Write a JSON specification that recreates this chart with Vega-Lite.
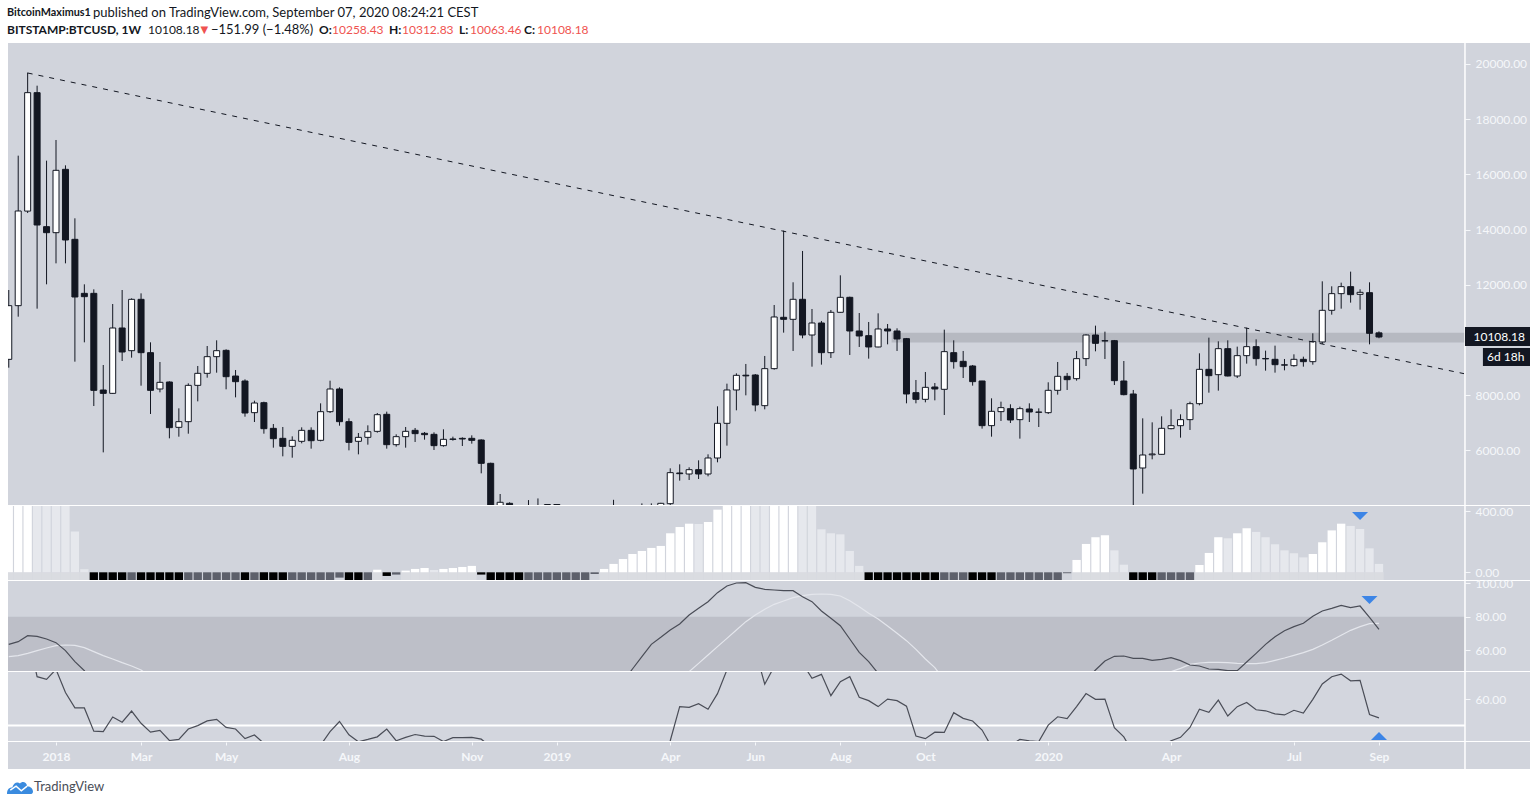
{"$schema":"https://vega.github.io/schema/vega-lite/v6.json","background":"#ffffff","padding":{"left":7,"right":7,"top":0,"bottom":0},"autosize":{"type":"pad"},"spacing":1,"bounds":"flush","config":{"concat":{"spacing":1},"view":{"stroke":null},"axis":{"grid":false,"title":null,"domain":false,"labelColor":"#f5f7fa","tickColor":"#f5f7fa","labelFont":"Lato","labelFontSize":12,"tickSize":5,"labelPadding":5,"labelBound":false,"labelFlush":false,"labelOverlap":false}},"datasets":{"weeks":[
{"t":"2017-11-27","o":9299,"h":11811,"l":8997,"c":11244,"m":700,"k":"u","s":63.4,"g":56},
{"t":"2017-12-04","o":11244,"h":16678,"l":10845,"c":14674,"m":800,"k":"u","s":65,"g":56.6},
{"t":"2017-12-11","o":14670,"h":19685,"l":14600,"c":18961,"m":950,"k":"u","s":68.6,"g":58,"r":85},
{"t":"2017-12-18","o":18961,"h":19214,"l":11135,"c":14166,"m":900,"k":"f","s":68.2,"g":59.6,"r":68.7},
{"t":"2017-12-25","o":14106,"h":16497,"l":12017,"c":13888,"m":820,"k":"f","s":66.6,"g":61.2,"r":67.7},
{"t":"2018-01-01","o":13888,"h":17246,"l":12777,"c":16147,"m":780,"k":"f","s":64.4,"g":62.6,"r":71.5},
{"t":"2018-01-08","o":16183,"h":16328,"l":12777,"c":13623,"m":640,"k":"f","s":59.6,"g":63,"r":62.6},
{"t":"2018-01-15","o":13647,"h":14408,"l":9215,"c":11558,"m":267,"k":"f","s":53,"g":62.8,"r":56.7},
{"t":"2018-01-22","o":11690,"h":12017,"l":9915,"c":11570,"m":20,"k":"f","s":47.6,"g":61.4,"r":56.7},
{"t":"2018-01-29","o":11690,"h":11835,"l":7608,"c":8176,"m":-120,"k":"d","s":38,"g":59,"r":47.8},
{"t":"2018-02-05","o":8188,"h":9094,"l":5929,"c":8067,"m":-200,"k":"d","g":56.6,"r":47.6},
{"t":"2018-02-12","o":8067,"h":11304,"l":8050,"c":10435,"m":-260,"k":"d","g":54.6,"r":53.2},
{"t":"2018-02-19","o":10435,"h":11811,"l":9239,"c":9565,"m":-310,"k":"d","g":52.4,"r":51.2},
{"t":"2018-02-26","o":9613,"h":11509,"l":9360,"c":11473,"m":-290,"k":"e","g":50.4,"r":55.5},
{"t":"2018-03-05","o":11473,"h":11690,"l":8345,"c":9541,"m":-320,"k":"d","g":48,"r":50.8},
{"t":"2018-03-12","o":9541,"h":9915,"l":7319,"c":8176,"m":-340,"k":"d","g":44,"r":47.4},
{"t":"2018-03-19","o":8225,"h":9203,"l":8104,"c":8466,"m":-360,"k":"d","r":48.1},
{"t":"2018-03-26","o":8478,"h":8502,"l":6437,"c":6824,"m":-390,"k":"d","r":44.2},
{"t":"2018-04-02","o":6836,"h":7524,"l":6497,"c":7041,"m":-400,"k":"d","r":44.6},
{"t":"2018-04-09","o":7041,"h":8430,"l":6606,"c":8357,"m":-380,"k":"e","r":48.6},
{"t":"2018-04-16","o":8357,"h":9058,"l":7777,"c":8792,"m":-340,"k":"e","r":49.9},
{"t":"2018-04-23","o":8792,"h":9782,"l":8635,"c":9396,"m":-300,"k":"e","r":51.7},
{"t":"2018-04-30","o":9396,"h":9988,"l":8816,"c":9613,"m":-250,"k":"e","r":52.3},
{"t":"2018-05-07","o":9625,"h":9662,"l":8213,"c":8671,"m":-220,"k":"e","r":49.2},
{"t":"2018-05-14","o":8695,"h":8913,"l":7922,"c":8490,"m":-200,"k":"e","r":48.6},
{"t":"2018-05-21","o":8514,"h":8575,"l":7222,"c":7355,"m":-210,"k":"d","r":44.9},
{"t":"2018-05-28","o":7367,"h":7801,"l":7029,"c":7717,"m":-200,"k":"e","r":46.3},
{"t":"2018-06-04","o":7729,"h":7765,"l":6606,"c":6787,"m":-220,"k":"d","r":43.1},
{"t":"2018-06-11","o":6799,"h":6956,"l":6099,"c":6425,"m":-250,"k":"d"},
{"t":"2018-06-18","o":6437,"h":6848,"l":5785,"c":6147,"m":-270,"k":"d"},
{"t":"2018-06-25","o":6147,"h":6509,"l":5736,"c":6365,"m":-260,"k":"e"},
{"t":"2018-07-02","o":6329,"h":6836,"l":6256,"c":6727,"m":-230,"k":"e"},
{"t":"2018-07-09","o":6727,"h":6836,"l":6063,"c":6352,"m":-200,"k":"e"},
{"t":"2018-07-16","o":6365,"h":7705,"l":6329,"c":7403,"m":-150,"k":"e","r":42.4},
{"t":"2018-07-23","o":7403,"h":8526,"l":7355,"c":8225,"m":-90,"k":"e","r":47.6},
{"t":"2018-07-30","o":8225,"h":8285,"l":6896,"c":7041,"m":-35,"k":"e","r":51.5},
{"t":"2018-08-06","o":7041,"h":7161,"l":6002,"c":6292,"m":-70,"k":"d","r":46.4},
{"t":"2018-08-13","o":6329,"h":6630,"l":5857,"c":6473,"m":-70,"k":"d","r":43.7},
{"t":"2018-08-20","o":6473,"h":6908,"l":6208,"c":6678,"m":-60,"k":"e","r":44.6},
{"t":"2018-08-27","o":6690,"h":7355,"l":6642,"c":7294,"m":17,"k":"u","r":45.6},
{"t":"2018-09-03","o":7307,"h":7404,"l":6063,"c":6208,"m":-24,"k":"d","r":48.6},
{"t":"2018-09-10","o":6208,"h":6582,"l":6136,"c":6498,"m":-15,"k":"e","r":44.1},
{"t":"2018-09-17","o":6498,"h":6848,"l":6099,"c":6691,"m":11,"k":"u","r":45.4},
{"t":"2018-09-24","o":6727,"h":6812,"l":6305,"c":6607,"m":22,"k":"u","r":46.5},
{"t":"2018-10-01","o":6619,"h":6667,"l":6389,"c":6570,"m":28,"k":"u","r":45.9},
{"t":"2018-10-08","o":6582,"h":6655,"l":6015,"c":6172,"m":15,"k":"f","r":45.8},
{"t":"2018-10-15","o":6172,"h":6764,"l":6136,"c":6401,"m":22,"k":"u","r":43.8},
{"t":"2018-10-22","o":6413,"h":6498,"l":6353,"c":6401,"m":28,"k":"u","r":45.3},
{"t":"2018-10-29","o":6437,"h":6474,"l":6160,"c":6413,"m":35,"k":"u","r":45.3},
{"t":"2018-11-05","o":6437,"h":6546,"l":6244,"c":6365,"m":42,"k":"u","r":45.4},
{"t":"2018-11-12","o":6377,"h":6401,"l":5170,"c":5532,"m":-15,"k":"d","r":44.7},
{"t":"2018-11-19","o":5532,"h":5555,"l":3560,"c":3780,"m":-90,"k":"d","r":41.8},
{"t":"2018-11-26","o":3780,"h":4420,"l":3500,"c":4120,"m":-140,"k":"d"},
{"t":"2018-12-03","o":4083,"h":4120,"l":3350,"c":3400,"m":-190,"k":"d"},
{"t":"2018-12-10","o":3400,"h":3600,"l":3120,"c":3200,"m":-220,"k":"d"},
{"t":"2018-12-17","o":3200,"h":4200,"l":3170,"c":3990,"m":-210,"k":"e"},
{"t":"2018-12-24","o":3990,"h":4260,"l":3600,"c":3700,"m":-190,"k":"e"},
{"t":"2018-12-31","o":3800,"h":4058,"l":3650,"c":4040,"m":-170,"k":"e"},
{"t":"2019-01-07","o":4040,"h":4058,"l":3500,"c":3550,"m":-150,"k":"e"},
{"t":"2019-01-14","o":3550,"h":3700,"l":3480,"c":3600,"m":-130,"k":"e"},
{"t":"2019-01-21","o":3600,"h":3670,"l":3450,"c":3530,"m":-100,"k":"e"},
{"t":"2019-01-28","o":3530,"h":3620,"l":3400,"c":3430,"m":-70,"k":"e"},
{"t":"2019-02-04","o":3430,"h":3500,"l":3380,"c":3410,"m":-11,"k":"e"},
{"t":"2019-02-11","o":3410,"h":3740,"l":3390,"c":3640,"m":22,"k":"u"},
{"t":"2019-02-18","o":3640,"h":4210,"l":3600,"c":3780,"m":55,"k":"u"},
{"t":"2019-02-25","o":3800,"h":3920,"l":3650,"c":3830,"m":87,"k":"u","s":41},
{"t":"2019-03-04","o":3830,"h":3950,"l":3700,"c":3850,"m":120,"k":"u","s":48.6},
{"t":"2019-03-11","o":3860,"h":4080,"l":3800,"c":3970,"m":140,"k":"u","s":56},
{"t":"2019-03-18","o":3950,"h":4080,"l":3880,"c":3980,"m":160,"k":"u","s":63.4},
{"t":"2019-03-25","o":3980,"h":4100,"l":3900,"c":4083,"m":173,"k":"u","s":67.6,"r":34},
{"t":"2019-04-01","o":4070,"h":5351,"l":4022,"c":5194,"m":256,"k":"u","s":72,"r":44.1},
{"t":"2019-04-08","o":5182,"h":5495,"l":4904,"c":5157,"m":297,"k":"u","s":75.6,"g":42,"r":57.2},
{"t":"2019-04-15","o":5145,"h":5387,"l":4928,"c":5302,"m":319,"k":"u","s":81,"g":47,"r":56.9},
{"t":"2019-04-22","o":5302,"h":5640,"l":4964,"c":5145,"m":317,"k":"f","s":85,"g":52,"r":58.3},
{"t":"2019-04-29","o":5145,"h":5858,"l":5061,"c":5725,"m":330,"k":"u","s":89,"g":57,"r":56.2},
{"t":"2019-05-06","o":5725,"h":7597,"l":5568,"c":6981,"m":411,"k":"u","s":94.4,"g":62,"r":62.2},
{"t":"2019-05-13","o":6981,"h":8418,"l":6172,"c":8189,"m":480,"k":"u","s":98.4,"g":67,"r":71.3},
{"t":"2019-05-20","o":8189,"h":8792,"l":7452,"c":8720,"m":560,"k":"u","s":100.2,"g":72,"r":79},
{"t":"2019-05-27","o":8725,"h":9131,"l":7995,"c":8700,"m":620,"k":"u","s":100.4,"g":77,"r":81.5},
{"t":"2019-06-03","o":8732,"h":8768,"l":7416,"c":7645,"m":640,"k":"f","s":97.6,"g":81,"r":79},
{"t":"2019-06-10","o":7621,"h":9421,"l":7488,"c":8962,"m":650,"k":"f","s":96.4,"g":84.4,"r":65.8},
{"t":"2019-06-17","o":8962,"h":11268,"l":8925,"c":10834,"m":640,"k":"u","s":96,"g":87.4,"r":72.6},
{"t":"2019-06-24","o":10822,"h":13962,"l":10266,"c":10749,"m":620,"k":"u","s":95.6,"g":89.4,"r":75.1},
{"t":"2019-07-01","o":10749,"h":12090,"l":9602,"c":11474,"m":590,"k":"u","s":95.6,"g":91.4,"r":75.1},
{"t":"2019-07-08","o":11474,"h":13225,"l":10061,"c":10181,"m":520,"k":"f","s":92,"g":92.6,"r":73.8},
{"t":"2019-07-15","o":10181,"h":11123,"l":9034,"c":10616,"m":450,"k":"f","s":89,"g":93.4,"r":68.1},
{"t":"2019-07-22","o":10616,"h":10689,"l":9107,"c":9541,"m":282,"k":"f","s":83.4,"g":93.6,"r":69.6},
{"t":"2019-07-29","o":9541,"h":11087,"l":9348,"c":11003,"m":256,"k":"f","s":79,"g":93.4,"r":61.4},
{"t":"2019-08-05","o":11003,"h":12343,"l":10990,"c":11546,"m":249,"k":"f","s":74.6,"g":92.4,"r":66.8},
{"t":"2019-08-12","o":11546,"h":11570,"l":9457,"c":10326,"m":140,"k":"f","s":66.6,"g":89.6,"r":68.7},
{"t":"2019-08-19","o":10326,"h":10978,"l":9747,"c":10145,"m":42,"k":"f","s":58.6,"g":86,"r":60.8},
{"t":"2019-08-26","o":10157,"h":10652,"l":9324,"c":9747,"m":-70,"k":"d","s":53,"g":82,"r":59.5},
{"t":"2019-09-02","o":9747,"h":10966,"l":9735,"c":10399,"m":-120,"k":"d","s":46,"g":78.6,"r":57.2},
{"t":"2019-09-09","o":10399,"h":10580,"l":9843,"c":10326,"m":-160,"k":"d","g":74.4,"r":60.1},
{"t":"2019-09-16","o":10326,"h":10423,"l":9602,"c":10037,"m":-190,"k":"d","g":70,"r":59.5},
{"t":"2019-09-23","o":10049,"h":10073,"l":7706,"c":8044,"m":-250,"k":"d","g":65.6,"r":57.4},
{"t":"2019-09-30","o":8092,"h":8551,"l":7706,"c":7850,"m":-290,"k":"d","g":60.4,"r":45.9},
{"t":"2019-10-07","o":7850,"h":8841,"l":7742,"c":8285,"m":-310,"k":"d","g":54.6,"r":44.9},
{"t":"2019-10-14","o":8297,"h":8442,"l":7814,"c":8225,"m":-320,"k":"d","g":49.4,"r":47.4},
{"t":"2019-10-21","o":8213,"h":10375,"l":7283,"c":9578,"m":-280,"k":"e","g":42,"r":47.3},
{"t":"2019-10-28","o":9541,"h":9988,"l":8962,"c":9215,"m":-250,"k":"e","r":54.9},
{"t":"2019-11-04","o":9227,"h":9602,"l":8623,"c":9034,"m":-220,"k":"e","r":52.7},
{"t":"2019-11-11","o":9058,"h":9095,"l":8346,"c":8491,"m":-230,"k":"d","r":51.7},
{"t":"2019-11-18","o":8515,"h":8520,"l":6788,"c":6897,"m":-270,"k":"d","r":48.2},
{"t":"2019-11-25","o":6897,"h":7887,"l":6498,"c":7416,"m":-280,"k":"d","r":41.8},
{"t":"2019-12-02","o":7404,"h":7766,"l":7065,"c":7549,"m":-260,"k":"e"},
{"t":"2019-12-09","o":7512,"h":7670,"l":6993,"c":7102,"m":-240,"k":"e","r":42.4},
{"t":"2019-12-16","o":7114,"h":7585,"l":6426,"c":7512,"m":-220,"k":"e","r":44.6},
{"t":"2019-12-23","o":7500,"h":7706,"l":7029,"c":7392,"m":-190,"k":"e","r":44.1},
{"t":"2019-12-30","o":7380,"h":7524,"l":6848,"c":7390,"m":-160,"k":"e","r":43.8},
{"t":"2020-01-06","o":7367,"h":8467,"l":7319,"c":8177,"m":-110,"k":"e","r":50.1},
{"t":"2020-01-13","o":8177,"h":9203,"l":8020,"c":8684,"m":-60,"k":"e","r":53.3},
{"t":"2020-01-20","o":8684,"h":8805,"l":8189,"c":8563,"m":-6,"k":"e","r":52.6},
{"t":"2020-01-27","o":8599,"h":9602,"l":8527,"c":9324,"m":81,"k":"u","r":57.2},
{"t":"2020-02-03","o":9324,"h":10206,"l":9058,"c":10181,"m":186,"k":"u","s":42,"r":62.2},
{"t":"2020-02-10","o":10181,"h":10520,"l":9590,"c":9879,"m":230,"k":"u","s":48,"r":60},
{"t":"2020-02-17","o":9975,"h":10302,"l":9312,"c":9965,"m":243,"k":"u","s":53.4,"r":60.1},
{"t":"2020-02-24","o":9976,"h":10000,"l":8370,"c":8527,"m":144,"k":"f","s":56.2,"r":49.1},
{"t":"2020-03-02","o":8515,"h":9239,"l":7995,"c":8020,"m":50,"k":"f","s":56.4,"r":45.6},
{"t":"2020-03-09","o":8044,"h":8189,"l":3850,"c":5327,"m":-90,"k":"d","s":55,"r":39.2},
{"t":"2020-03-16","o":5363,"h":7162,"l":4433,"c":5834,"m":-170,"k":"d","s":55},
{"t":"2020-03-23","o":5840,"h":7017,"l":5677,"c":5870,"m":-210,"k":"d","s":53.8},
{"t":"2020-03-30","o":5858,"h":7234,"l":5850,"c":6800,"m":-190,"k":"e","s":54.4,"r":41.8},
{"t":"2020-04-06","o":6788,"h":7488,"l":6764,"c":6896,"m":-160,"k":"e","s":55.4,"g":47,"r":44.1},
{"t":"2020-04-13","o":6896,"h":7307,"l":6462,"c":7114,"m":-120,"k":"e","s":53.6,"g":49,"r":45.4},
{"t":"2020-04-20","o":7114,"h":7766,"l":6740,"c":7693,"m":-70,"k":"e","s":51,"g":51.4,"r":49.2},
{"t":"2020-04-27","o":7693,"h":9517,"l":7633,"c":8937,"m":48,"k":"u","s":50.4,"g":52.2,"r":56.2},
{"t":"2020-05-04","o":8937,"h":10085,"l":8092,"c":8708,"m":127,"k":"u","s":48.6,"g":52.6,"r":55},
{"t":"2020-05-11","o":8744,"h":9952,"l":8165,"c":9686,"m":230,"k":"u","s":48.4,"g":52.6,"r":59.7},
{"t":"2020-05-18","o":9686,"h":9988,"l":8680,"c":8696,"m":223,"k":"f","s":47.6,"g":52.4,"r":53.6},
{"t":"2020-05-25","o":8696,"h":9759,"l":8623,"c":9433,"m":256,"k":"u","s":47.6,"g":52,"r":57.2},
{"t":"2020-06-01","o":9433,"h":10447,"l":9143,"c":9759,"m":289,"k":"u","s":52.8,"g":51.8,"r":58.8},
{"t":"2020-06-08","o":9759,"h":10024,"l":9070,"c":9324,"m":265,"k":"f","s":58,"g":51.8,"r":56},
{"t":"2020-06-15","o":9330,"h":9614,"l":8889,"c":9315,"m":230,"k":"f","s":63.4,"g":52.4,"r":55.6},
{"t":"2020-06-22","o":9300,"h":9795,"l":8817,"c":9106,"m":184,"k":"f","s":68,"g":53.8,"r":54.4},
{"t":"2020-06-29","o":9100,"h":9312,"l":8901,"c":9090,"m":144,"k":"f","s":71.6,"g":55.2,"r":54},
{"t":"2020-07-06","o":9070,"h":9481,"l":9034,"c":9300,"m":125,"k":"f","s":74,"g":56.8,"r":55.8},
{"t":"2020-07-13","o":9300,"h":9396,"l":9034,"c":9215,"m":98,"k":"f","s":76,"g":58.4,"r":54.7},
{"t":"2020-07-20","o":9215,"h":10242,"l":9106,"c":9940,"m":120,"k":"u","s":80.2,"g":60.4,"r":60},
{"t":"2020-07-27","o":9928,"h":12126,"l":9855,"c":11075,"m":197,"k":"u","s":83.4,"g":63,"r":65.9},
{"t":"2020-08-03","o":11075,"h":11945,"l":10918,"c":11679,"m":275,"k":"u","s":85,"g":65.8,"r":68.7},
{"t":"2020-08-10","o":11679,"h":12077,"l":11135,"c":11933,"m":319,"k":"u","s":86.8,"g":68.8,"r":69.7},
{"t":"2020-08-17","o":11933,"h":12476,"l":11353,"c":11643,"m":304,"k":"f","s":85.4,"g":71.8,"r":67.1},
{"t":"2020-08-24","o":11655,"h":11836,"l":11099,"c":11727,"m":284,"k":"f","s":86.4,"g":74,"r":67.3},
{"t":"2020-08-31","o":11715,"h":12090,"l":9843,"c":10242,"m":157,"k":"f","s":79.6,"g":75.8,"r":54.2},
{"t":"2020-09-07","o":10258.43,"h":10312.83,"l":10063.46,"c":10108.18,"m":55,"k":"f","s":72.4,"g":76,"r":52.9}
],"edge":[{"t":"2020-11-09T17:00:00Z"}]},
"vconcat":[
{"width":1522,"height":42,"view":{"fill":"#ffffff","stroke":null},"layer":[
{"data":{"values":[{"s":"BitcoinMaximus1"}]},"mark":{"type":"text","x":-1,"y":13,"align":"left","baseline":"middle","font":"Lato","fontSize":10.8,"fontWeight":"bold","color":"#131722"},"encoding":{"text":{"field":"s"}}},
{"data":{"values":[{"s":"published on TradingView.com, September 07, 2020 08:24:21 CEST"}]},"mark":{"type":"text","x":85,"y":13,"align":"left","baseline":"middle","font":"Lato","fontSize":13,"color":"#131722"},"encoding":{"text":{"field":"s"}}},
{"data":{"values":[{"s":"BITSTAMP:BTCUSD, 1W"}]},"mark":{"type":"text","x":-1,"y":30,"align":"left","baseline":"middle","font":"Lato","fontSize":12,"fontWeight":"bold","color":"#131722"},"encoding":{"text":{"field":"s"}}},
{"data":{"values":[{"s":"10108.18"}]},"mark":{"type":"text","x":140,"y":30,"align":"left","baseline":"middle","font":"Lato","fontSize":12,"color":"#131722"},"encoding":{"text":{"field":"s"}}},
{"data":{"values":[{"s":"▼"}]},"mark":{"type":"text","x":192.5,"y":30,"align":"left","baseline":"middle","font":"DejaVu Sans","fontSize":10,"color":"#ef5350"},"encoding":{"text":{"field":"s"}}},
{"data":{"values":[{"s":"−151.99 (−1.48%)"}]},"mark":{"type":"text","x":203,"y":30,"align":"left","baseline":"middle","font":"Lato","fontSize":13,"color":"#131722"},"encoding":{"text":{"field":"s"}}},
{"data":{"values":[{"s":"O:"}]},"mark":{"type":"text","x":311,"y":30,"align":"left","baseline":"middle","font":"Lato","fontSize":12,"fontWeight":"bold","color":"#131722"},"encoding":{"text":{"field":"s"}}},
{"data":{"values":[{"s":"10258.43"}]},"mark":{"type":"text","x":324,"y":30,"align":"left","baseline":"middle","font":"Lato","fontSize":12,"color":"#ef5350"},"encoding":{"text":{"field":"s"}}},
{"data":{"values":[{"s":"H:"}]},"mark":{"type":"text","x":381,"y":30,"align":"left","baseline":"middle","font":"Lato","fontSize":12,"fontWeight":"bold","color":"#131722"},"encoding":{"text":{"field":"s"}}},
{"data":{"values":[{"s":"10312.83"}]},"mark":{"type":"text","x":394,"y":30,"align":"left","baseline":"middle","font":"Lato","fontSize":12,"color":"#ef5350"},"encoding":{"text":{"field":"s"}}},
{"data":{"values":[{"s":"L:"}]},"mark":{"type":"text","x":451,"y":30,"align":"left","baseline":"middle","font":"Lato","fontSize":12,"fontWeight":"bold","color":"#131722"},"encoding":{"text":{"field":"s"}}},
{"data":{"values":[{"s":"10063.46"}]},"mark":{"type":"text","x":462,"y":30,"align":"left","baseline":"middle","font":"Lato","fontSize":12,"color":"#ef5350"},"encoding":{"text":{"field":"s"}}},
{"data":{"values":[{"s":"C:"}]},"mark":{"type":"text","x":516,"y":30,"align":"left","baseline":"middle","font":"Lato","fontSize":12,"fontWeight":"bold","color":"#131722"},"encoding":{"text":{"field":"s"}}},
{"data":{"values":[{"s":"10108.18"}]},"mark":{"type":"text","x":529,"y":30,"align":"left","baseline":"middle","font":"Lato","fontSize":12,"color":"#ef5350"},"encoding":{"text":{"field":"s"}}}
]},
{"width":1522,"height":462,"view":{"fill":"#d1d4dc","stroke":null},"encoding":{"x":{"field":"t","type":"temporal","axis":null,"scale":{"type":"utc","padding":0,"domain":[{"year":2017,"month":11,"date":26,"hours":10,"minutes":34,"utc":true},{"year":2020,"month":12,"date":27,"hours":21,"utc":true}]}}},"layer":[
{"data":{"values":[{"t":"2019-09-12","t2":"2020-11-09T17:00:00Z","a":10260,"b":9913}]},"mark":{"type":"rect","color":"#787b86","opacity":0.3},"encoding":{"x2":{"field":"t2"},"y":{"field":"a","type":"quantitative","axis":{"orient":"right","offset":-65,"values":[6000,8000,12000,14000,16000,18000,20000],"format":".2f"},"scale":{"domain":[4022,20760],"nice":false,"zero":false}},"y2":{"field":"b"}}},
{"data":{"name":"edge"},"mark":{"type":"rule","color":"#ffffff","strokeWidth":1.5},"encoding":{}},
{"data":{"name":"weeks"},"mark":{"type":"rule","color":"#131722","strokeWidth":1,"clip":true},"encoding":{"y":{"field":"l","type":"quantitative"},"y2":{"field":"h"}}},
{"data":{"name":"weeks"},"mark":{"type":"bar","size":6,"stroke":"#131722","strokeWidth":1,"clip":true},"encoding":{"y":{"field":"o","type":"quantitative"},"y2":{"field":"c"},"fill":{"condition":{"test":"datum.c>=datum.o","value":"#ffffff"},"value":"#131722"}}},
{"data":{"values":[{"t":"2017-12-11","p":19673},{"t":"2020-11-09","p":8780}]},"mark":{"type":"line","color":"#131722","strokeWidth":1,"strokeDash":[5,6],"clip":true},"encoding":{"y":{"field":"p","type":"quantitative"}}},
{"data":{"values":[{"t":"2020-11-09T17:00:00Z","t2":"2020-12-27T21:00:00Z","a":10471,"b":9783},{"t":"2020-11-23","t2":"2020-12-27T21:00:00Z","a":9710,"b":9058}]},"mark":{"type":"rect","color":"#131722"},"encoding":{"x2":{"field":"t2"},"y":{"field":"a","type":"quantitative"},"y2":{"field":"b"}}},
{"data":{"values":[{"t":"2020-11-16","p":10108.18,"s":"10108.18"},{"t":"2020-11-26","p":9384,"s":"6d 18h"}]},"mark":{"type":"text","align":"left","baseline":"middle","font":"Lato","fontSize":12,"color":"#ffffff"},"encoding":{"y":{"field":"p","type":"quantitative"},"text":{"field":"s"}}}
]},
{"width":1522,"height":74,"view":{"fill":"#d1d4dc","stroke":null},"encoding":{"x":{"field":"t","type":"temporal","axis":null,"scale":{"type":"utc","padding":0,"domain":[{"year":2017,"month":11,"date":26,"hours":10,"minutes":34,"utc":true},{"year":2020,"month":12,"date":27,"hours":21,"utc":true}]}}},"layer":[
{"data":{"name":"weeks"},"transform":[{"filter":"datum.m>0"}],"mark":{"type":"bar","size":9.5,"color":"#dadce1","clip":true},"encoding":{"y":{"datum":0,"type":"quantitative","axis":{"orient":"right","offset":-65,"values":[0,200,400],"format":".2f"},"scale":{"domain":[-50.5,435],"nice":false,"zero":false}},"y2":{"datum":-60}}},
{"data":{"name":"edge"},"mark":{"type":"rule","color":"#ffffff","strokeWidth":1.5},"encoding":{}},
{"data":{"name":"weeks"},"mark":{"type":"bar","size":8.3,"clip":true},"encoding":{"y":{"field":"m","type":"quantitative","stack":null},"y2":{"datum":0},"fill":{"field":"k","type":"nominal","legend":null,"scale":{"domain":["u","f","d","e"],"range":["#ffffff","#e6e8ed","#000000","#5d606b"]}}}},
{"data":{"values":[{"t":"2020-08-24","v":369}]},"mark":{"type":"point","shape":"M-1,-0.5L1,-0.5L0,0.5Z","size":256,"filled":true,"opacity":1,"color":"#3d85e6"},"encoding":{"y":{"field":"v","type":"quantitative"}}}
]},
{"width":1522,"height":90,"view":{"fill":"#d1d4dc","stroke":null},"encoding":{"x":{"field":"t","type":"temporal","axis":null,"scale":{"type":"utc","padding":0,"domain":[{"year":2017,"month":11,"date":26,"hours":10,"minutes":34,"utc":true},{"year":2020,"month":12,"date":27,"hours":21,"utc":true}]}}},"layer":[
{"data":{"values":[{"t":"2017-11-20","t2":"2020-11-09T17:00:00Z","a":80,"b":40}]},"mark":{"type":"rect","color":"#bdbfc8","clip":true},"encoding":{"x2":{"field":"t2"},"y":{"field":"a","type":"quantitative","axis":{"orient":"right","offset":-65,"values":[60,80,100],"format":".2f"},"scale":{"domain":[47.4,101.4],"nice":false,"zero":false}},"y2":{"field":"b"}}},
{"data":{"name":"edge"},"mark":{"type":"rule","color":"#ffffff","strokeWidth":1.5},"encoding":{}},
{"data":{"name":"weeks"},"mark":{"type":"line","color":"#e4e6ec","strokeWidth":1.2,"clip":true},"encoding":{"y":{"field":"g","type":"quantitative"}}},
{"data":{"name":"weeks"},"mark":{"type":"line","color":"#4a4d57","strokeWidth":1.2,"clip":true},"encoding":{"y":{"field":"s","type":"quantitative"}}},
{"data":{"values":[{"t":"2020-08-31","v":90}]},"mark":{"type":"point","shape":"M-1,-0.5L1,-0.5L0,0.5Z","size":256,"filled":true,"opacity":1,"color":"#3d85e6"},"encoding":{"y":{"field":"v","type":"quantitative"}}}
]},
{"width":1522,"height":69,"view":{"fill":"#d3d6de","stroke":null},"encoding":{"x":{"field":"t","type":"temporal","axis":null,"scale":{"type":"utc","padding":0,"domain":[{"year":2017,"month":11,"date":26,"hours":10,"minutes":34,"utc":true},{"year":2020,"month":12,"date":27,"hours":21,"utc":true}]}}},"layer":[
{"data":{"values":[{"t":"2017-11-20","t2":"2020-11-09T17:00:00Z","v":50}]},"mark":{"type":"rule","color":"#ffffff","strokeWidth":2,"clip":true},"encoding":{"x2":{"field":"t2"},"y":{"field":"v","type":"quantitative","axis":{"orient":"right","offset":-65,"values":[60],"format":".2f"},"scale":{"domain":[44,70.5],"nice":false,"zero":false}}}},
{"data":{"name":"edge"},"mark":{"type":"rule","color":"#ffffff","strokeWidth":1.5},"encoding":{}},
{"data":{"name":"weeks"},"mark":{"type":"line","color":"#4a4d57","strokeWidth":1.2,"clip":true},"encoding":{"y":{"field":"r","type":"quantitative"}}},
{"data":{"values":[{"t":"2020-09-07","v":45.9}]},"mark":{"type":"point","shape":"M-1,0.5L1,0.5L0,-0.5Z","size":256,"filled":true,"opacity":1,"color":"#3d85e6"},"encoding":{"y":{"field":"v","type":"quantitative"}}}
]},
{"width":1522,"height":27,"view":{"fill":"#d1d4dc","stroke":null},"data":{"name":"edge"},"mark":{"type":"rule","color":"#ffffff","strokeWidth":1.5},"encoding":{"x":{"field":"t","type":"temporal","scale":{"type":"utc","padding":0,"domain":[{"year":2017,"month":11,"date":26,"hours":10,"minutes":34,"utc":true},{"year":2020,"month":12,"date":27,"hours":21,"utc":true}]},"axis":{"orient":"bottom","offset":-27,"tickSize":3,"labelPadding":6,"labelFontWeight":"bold","labelExpr":"utcmonth(datum.value)==0?utcFormat(datum.value,'%Y'):utcFormat(datum.value,'%b')","values":[{"year":2018,"month":1,"date":1,"utc":true},{"year":2018,"month":3,"date":5,"utc":true},{"year":2018,"month":5,"date":7,"utc":true},{"year":2018,"month":8,"date":6,"utc":true},{"year":2018,"month":11,"date":5,"utc":true},{"year":2019,"month":1,"date":7,"utc":true},{"year":2019,"month":4,"date":1,"utc":true},{"year":2019,"month":6,"date":3,"utc":true},{"year":2019,"month":8,"date":5,"utc":true},{"year":2019,"month":10,"date":7,"utc":true},{"year":2020,"month":1,"date":6,"utc":true},{"year":2020,"month":4,"date":6,"utc":true},{"year":2020,"month":7,"date":6,"utc":true},{"year":2020,"month":9,"date":7,"utc":true}]}}}},
{"width":1522,"height":36,"view":{"fill":"#ffffff","stroke":null},"layer":[
{"data":{"values":[{"s":"logo"}]},"mark":{"type":"point","x":12,"y":17.5,"shape":"M-1,0.5C-1,0.1-0.8,0-0.6,0C-0.5,-0.35-0.2,-0.5,0,-0.3C0.15,-0.5,0.5,-0.45,0.55,-0.1C0.85,-0.1,1,0.15,1,0.3C1,0.45,0.9,0.5,0.8,0.5Z","size":676,"filled":true,"opacity":1,"color":"#3a8bdf"},"encoding":{}},
{"data":{"values":[{"s":"logo"}]},"mark":{"type":"point","x":12,"y":17.5,"shape":"M-0.75,0.2L-0.3,-0.1L0.1,0.25L0.55,-0.1","size":676,"filled":false,"opacity":1,"strokeWidth":1.5,"color":"#ffffff"},"encoding":{}},
{"data":{"values":[{"s":"TradingView"}]},"mark":{"type":"text","x":26,"y":17,"align":"left","baseline":"middle","font":"Lato","fontSize":13,"color":"#4a4e58"},"encoding":{"text":{"field":"s"}}}
]}
]}
